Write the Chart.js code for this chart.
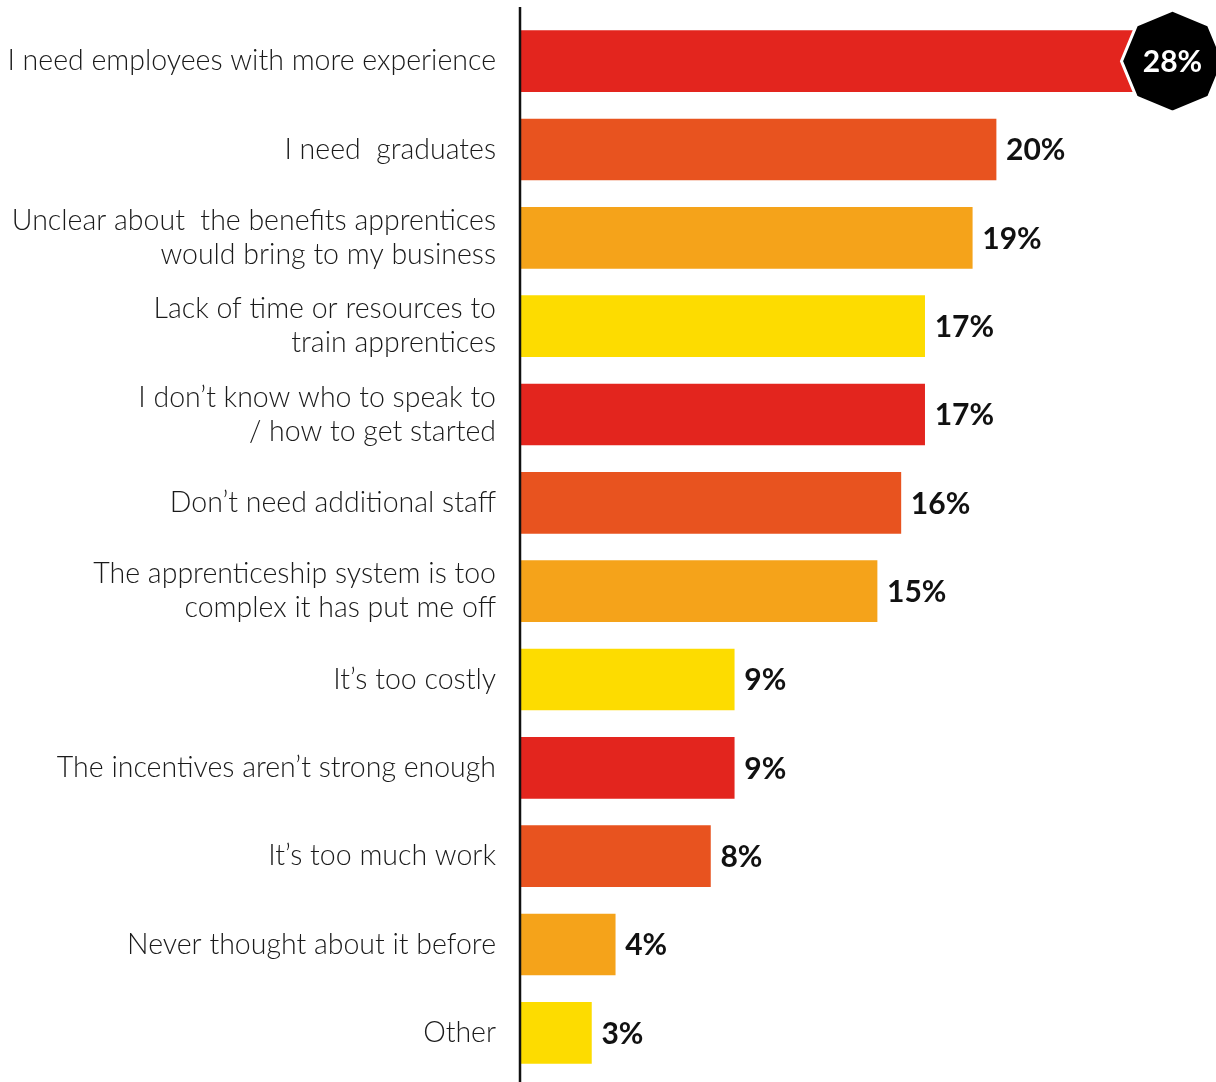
<!DOCTYPE html>
<html>
<head>
<meta charset="utf-8">
<script src="https://cdn.jsdelivr.net/npm/chart.js@4.4.1/dist/chart.umd.min.js"></script>
<style>
  html, body { margin: 0; padding: 0; background: #fff; }
  #wrap { width: 1216px; height: 1082px; }
</style>
</head>
<body>
<div id="wrap"><canvas id="chart" width="1216" height="1082"></canvas></div>
<script>
// reasons for not taking on apprentices (% of employers)
const categories = [
    'I need employees with more experience',
    'I need  graduates',
    ['Unclear about  the benefits apprentices', 'would bring to my business'],
    ['Lack of time or resources to', 'train apprentices'],
    ['I don\u2019t know who to speak to', '/ how to get started'],
    'Don\u2019t need additional staff',
    ['The apprenticeship system is too', 'complex it has put me off'],
    'It\u2019s too costly',
    'The incentives aren\u2019t strong enough',
    'It\u2019s too much work',
    'Never thought about it before',
    'Other'
];
const values = [28, 20, 19, 17, 17, 16, 15, 9, 9, 8, 4, 3];
const palette = ['#E3251E', '#E8531F', '#F5A31A', '#FDDC00'];
const barColors = values.map((v, i) => palette[i % palette.length]);

const FONT = 'Lato, "Open Sans", sans-serif';

// axis line that runs the full height of the canvas
const axisLine = {
    id: 'axisLine',
    afterDatasetsDraw(chart) {
        const ctx = chart.ctx;
        const x = chart.chartArea.left;
        ctx.save();
        ctx.strokeStyle = '#111';
        ctx.lineWidth = 2.5;
        ctx.beginPath();
        ctx.moveTo(x, 7);
        ctx.lineTo(x, chart.height);
        ctx.stroke();
        ctx.restore();
    }
};

// value labels, the biggest one goes into a black octagon
const valueLabels = {
    id: 'valueLabels',
    afterDatasetsDraw(chart) {
        const ctx = chart.ctx;
        const meta = chart.getDatasetMeta(0);
        const maxVal = Math.max(...values);
        ctx.save();
        ctx.font = 'bold 30px ' + FONT;
        ctx.textBaseline = 'middle';
        meta.data.forEach((bar, i) => {
            const txt = values[i] + '%';
            if (values[i] === maxVal) {
                const cx = bar.x - 14;
                const cy = bar.y;
                const r = 51;
                ctx.beginPath();
                for (let k = 0; k < 8; k++) {
                    const a = -Math.PI / 2 + k * Math.PI / 4;
                    const px = cx + r * Math.cos(a);
                    const py = cy + r * Math.sin(a);
                    if (k === 0) ctx.moveTo(px, py); else ctx.lineTo(px, py);
                }
                ctx.closePath();
                ctx.fillStyle = '#000';
                ctx.fill();
                ctx.strokeStyle = '#fff';
                ctx.lineWidth = 3;
                ctx.stroke();
                ctx.fillStyle = '#fff';
                ctx.textAlign = 'center';
                ctx.fillText(txt, cx, cy + 1);
            } else {
                ctx.fillStyle = '#111';
                ctx.textAlign = 'left';
                ctx.fillText(txt, bar.x + 10, bar.y + 1);
            }
        });
        ctx.restore();
    }
};

new Chart(document.getElementById('chart').getContext('2d'), {
    type: 'bar',
    data: {
        labels: categories,
        datasets: [{
            data: values,
            backgroundColor: barColors,
            borderWidth: 0,
            barThickness: 61
        }]
    },
    options: {
        indexAxis: 'y',
        responsive: false,
        animation: false,
        layout: { padding: { top: 17, bottom: 5, left: 0, right: 0 } },
        scales: {
            x: {
                display: false,
                min: 0,
                max: 29.24
            },
            y: {
                afterFit(scale) {
                    scale.width = 520;
                    scale.paddingTop = 0;
                    scale.paddingBottom = 0;
                },
                grid: { display: false, drawTicks: false },
                border: { display: false },
                ticks: {
                    color: '#1a1a1a',
                    padding: 24,
                    font: { family: FONT, size: 28.5, weight: 300, lineHeight: 1.2 }
                }
            }
        },
        plugins: {
            legend: { display: false },
            tooltip: { enabled: false }
        }
    },
    plugins: [axisLine, valueLabels]
});
</script>
</body>
</html>
